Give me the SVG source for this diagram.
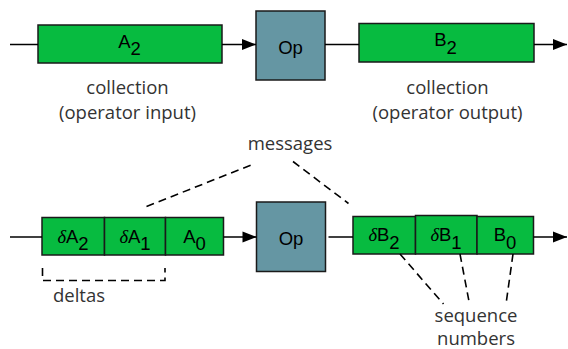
<svg xmlns="http://www.w3.org/2000/svg" width="568" height="349" viewBox="0 0 568 349">
  <defs>
    <marker id="arrow" markerUnits="userSpaceOnUse" markerWidth="16" markerHeight="12" refX="15" refY="6" orient="auto">
      <path d="M1,0.5 L15,6 L1,11.5 Z" fill="#000"/>
    </marker>
    <style>
      .coll { fill: #07bb40; stroke: #1a1a1a; stroke-width: 1.5; }
      .op { fill: #6596a3; stroke: #1a1a1a; stroke-width: 1.5; }
      .wire { stroke: #000; stroke-width: 1.5; fill: none; }
      .dash { stroke: #000; stroke-width: 1.6; fill: none; stroke-dasharray: 8 5; }
      .sym { font-family: "Liberation Sans", Arial, sans-serif; font-size: 18.5px; fill: #000; text-anchor: middle; }
      .delta { font-family: "Liberation Serif", "Times New Roman", serif; font-style: italic; }
      .note { font-family: "Open Sans", "DejaVu Sans", sans-serif; font-size: 18.5px; fill: #333; text-anchor: middle; }
    </style>
  </defs>

  <!-- top row: whole collections -->
  <g id="A2">
    <rect class="coll" x="38" y="25" width="184" height="38"/>
    <text class="sym" x="129.5" y="47.5">A<tspan dy="7.5">2</tspan></text>
  </g>
  <g id="op-top">
    <rect class="op" x="256" y="11" width="69" height="69"/>
    <text class="sym" x="290.5" y="54">Op</text>
  </g>
  <g id="B2">
    <rect class="coll" x="359" y="23.5" width="175" height="38.5"/>
    <text class="sym" x="445.5" y="45.5">B<tspan dy="8">2</tspan></text>
  </g>
  <g id="label-input">
    <text class="note" x="127.5" y="94">collection</text>
    <text class="note" x="127.5" y="118.5">(operator input)</text>
  </g>
  <g id="label-output">
    <text class="note" x="447.5" y="94">collection</text>
    <text class="note" x="447.5" y="118.5">(operator output)</text>
  </g>

  <!-- bottom row: message streams -->
  <g id="dA2">
    <rect class="coll" x="42" y="217.5" width="62.5" height="37.5"/>
    <text class="sym" x="73" y="242.5"><tspan class="delta">δ</tspan>A<tspan dy="7">2</tspan></text>
  </g>
  <g id="dA1">
    <rect class="coll" x="104.5" y="217.5" width="61" height="37.5"/>
    <text class="sym" x="135" y="242.5"><tspan class="delta">δ</tspan>A<tspan dy="7">1</tspan></text>
  </g>
  <g id="A0">
    <rect class="coll" x="165.5" y="217.5" width="58" height="37.5"/>
    <text class="sym" x="194.5" y="242.5">A<tspan dy="7">0</tspan></text>
  </g>
  <g id="op-bottom">
    <rect class="op" x="256.5" y="202" width="69" height="69.5"/>
    <text class="sym" x="291" y="244.5">Op</text>
  </g>
  <g id="dB2">
    <rect class="coll" x="353" y="216.5" width="62.5" height="37.5"/>
    <text class="sym" x="384" y="241"><tspan class="delta">δ</tspan>B<tspan dy="8">2</tspan></text>
  </g>
  <g id="dB1">
    <rect class="coll" x="415.5" y="215.5" width="61.5" height="38.5"/>
    <text class="sym" x="446" y="241"><tspan class="delta">δ</tspan>B<tspan dy="8">1</tspan></text>
  </g>
  <g id="B0">
    <rect class="coll" x="477" y="216.5" width="56.5" height="37.5"/>
    <text class="sym" x="505" y="241">B<tspan dy="8">0</tspan></text>
  </g>
  <g id="label-messages">
    <text class="note" x="290" y="150">messages</text>
  </g>
  <g id="label-deltas">
    <text class="note" x="79" y="301.5">deltas</text>
  </g>
  <g id="label-sequence">
    <text class="note" x="476" y="321.5">sequence</text>
    <text class="note" x="476" y="345">numbers</text>
  </g>

  <!-- connectors -->
  <g id="connectors">
    <line class="wire" x1="10" y1="44.5" x2="38" y2="44.5"/>
    <line class="wire" x1="222" y1="44.5" x2="256" y2="44.5" marker-end="url(#arrow)"/>
    <line class="wire" x1="325" y1="44.5" x2="359" y2="44.5"/>
    <line class="wire" x1="534" y1="44.5" x2="567" y2="44.5" marker-end="url(#arrow)"/>

    <line class="wire" x1="10" y1="237" x2="42" y2="237"/>
    <line class="wire" x1="223.5" y1="237" x2="256.5" y2="237" marker-end="url(#arrow)"/>
    <line class="wire" x1="328.5" y1="237" x2="353" y2="237"/>
    <line class="wire" x1="533.5" y1="237" x2="567" y2="237" marker-end="url(#arrow)"/>

    <line class="dash" x1="146.5" y1="206.5" x2="255" y2="163.5"/>
    <line class="dash" x1="293" y1="161.5" x2="348.5" y2="203.5"/>
    <path class="dash" d="M42.5,268 V280.5 H165 V268"/>
    <line class="dash" x1="400" y1="254" x2="443.5" y2="304"/>
    <line class="dash" x1="460" y1="254" x2="469.5" y2="304"/>
    <line class="dash" x1="513" y1="254" x2="506" y2="304"/>
  </g>
</svg>
